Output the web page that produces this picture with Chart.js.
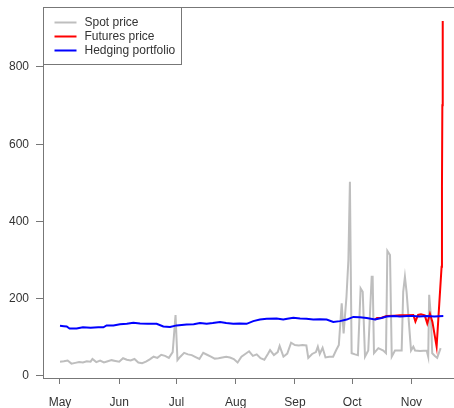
<!DOCTYPE html>
<html>
<head>
<meta charset="utf-8">
<script src="https://cdn.jsdelivr.net/npm/chart.js@4.4.1/dist/chart.umd.min.js"></script>
<style>
  body { margin: 0; background: #fff; }
  canvas { display: block; }
</style>
</head>
<body>
<canvas id="myChart" width="454" height="408"></canvas>
<script>
// days counted from May 1
const monthTicks = [0, 31, 61, 92, 123, 153, 184]
const monthLabels = ['May', 'Jun', 'Jul', 'Aug', 'Sep', 'Oct', 'Nov']
const yTicks = [0, 200, 400, 600, 800]

const spotDays = [
  0, 2, 4, 6, 8, 10, 12, 14, 16, 17, 19, 21, 23, 25, 27, 29, 31, 33, 35, 37,
  39, 41, 43, 45, 47, 49, 51, 53, 55, 57, 59, 60.5, 61.5, 63, 65, 67, 69, 71, 73, 75,
  77, 79, 81, 83, 85, 87, 89, 91, 93, 95, 97, 99, 101, 103, 105, 107, 109, 110, 112, 114,
  115, 117, 119, 121, 123, 125, 127, 129, 130, 132, 134, 135, 136, 137.5, 139, 141, 143, 144.5, 146, 147.5,
  148.5, 150, 151, 151.8, 152.2, 152.7, 154.5, 156, 157.4, 158.5, 159.7, 161.4, 163.2, 163.7, 164.4, 166.7, 169.3, 170.7, 171.4, 172.8,
  173.7, 175.4, 178.9, 179.7, 180.6, 181.5, 183.8, 185, 185.9, 188.5, 192, 192.8, 193.3, 194.2, 194.9, 196.3, 197.5, 199.3
]
const spotPrice = [
  37, 38, 40, 32, 34, 36, 35, 38, 37, 44, 36, 40, 35, 38, 41, 39, 37, 46, 42, 40,
  44, 35, 33, 37, 43, 50, 47, 55, 52, 47, 62, 158, 41, 50, 60, 56, 54, 49, 44, 60,
  55, 50, 45, 46, 48, 50, 48, 44, 35, 50, 57, 64, 52, 56, 46, 42, 58, 67, 54, 62,
  78, 50, 58, 86, 80, 79, 80, 79, 47, 57, 62, 76, 57, 73, 48, 50, 50, 66, 80, 188,
  110, 205, 300, 503, 300, 59, 56, 54, 227, 218, 50, 66, 257, 257, 59, 72, 66, 59, 324, 313,
  50, 66, 66, 218, 257, 216, 66, 76, 66, 65, 66, 50, 210, 154, 59, 52, 47, 72
]

const futuresDays = [
  164.9, 166, 168.4, 171, 175, 178, 182, 185, 186.1, 187.5, 189, 191, 192.3, 193.7, 195,
  197.2, 198.6, 199.8, 200, 200.2, 200.4
]
const futuresPrice = [
  146, 150, 151, 155, 156, 157, 157, 158, 141, 158, 160, 157, 136, 161, 140,
  76, 188, 283, 490, 701, 919
]

const hedgeDays = [
  0, 2, 3.5, 5, 8.7, 12, 16, 20, 22.7, 24.4, 28, 31.4, 35, 38.4, 41.9, 46, 50.6, 54.1, 57.6, 61.1,
  66.3, 70, 73.3, 76.8, 80, 83.8, 87, 90.7, 94, 97.7, 101.2, 104.7, 108.2, 113.4, 116.9, 119, 122.2, 125.7, 129, 132.6,
  136, 139.6, 143.1, 146.6, 150.1, 153.6, 157, 160.6, 164.9, 168.4, 171, 175, 178, 182, 185, 188, 192, 196, 200.7
]
const hedgePortfolio = [
  130, 129, 128, 123, 123, 126, 125, 126, 126, 131, 131, 134, 135, 138, 136, 135, 135, 128, 127, 131,
  133, 134, 137, 135, 137, 140, 137, 135, 136, 135, 142, 146, 148, 149, 146, 148, 151, 149, 148, 146,
  147, 146, 140, 142, 146, 153, 152, 150, 146, 150, 154, 155, 154, 155, 155, 154, 155, 154, 155
]

function pairs(xs, ys) {
  return xs.map((x, i) => ({ x: x, y: ys[i] }))
}

const axisColor = '#777'
const textColor = '#333'
const font = { family: 'Liberation Sans, Arial, sans-serif', size: 12 }

// box legend in the top left corner, like R's legend()
const boxLegend = {
  id: 'boxLegend',
  afterDraw(chart) {
    const ctx = chart.ctx
    const area = chart.chartArea
    const x0 = Math.round(area.left) + 0.5
    const y0 = Math.round(area.top) + 0.5
    ctx.save()
    ctx.fillStyle = '#fff'
    ctx.fillRect(x0, y0, 138, 57)
    ctx.strokeStyle = axisColor
    ctx.lineWidth = 1
    ctx.strokeRect(x0, y0, 138, 57)
    ctx.font = font.size + 'px ' + font.family
    ctx.textBaseline = 'middle'
    chart.data.datasets.forEach((ds, i) => {
      let y = y0 + 15 + i * 14
      ctx.strokeStyle = ds.borderColor
      ctx.lineWidth = 2
      ctx.beginPath()
      ctx.moveTo(x0 + 11, y)
      ctx.lineTo(x0 + 33, y)
      ctx.stroke()
      ctx.fillStyle = textColor
      ctx.fillText(ds.label, x0 + 41, y)
    })
    ctx.restore()
  }
}

// top edge of the plot box
const topLine = {
  id: 'topLine',
  afterDraw(chart) {
    const ctx = chart.ctx
    const area = chart.chartArea
    ctx.save()
    ctx.strokeStyle = axisColor
    ctx.lineWidth = 1
    ctx.beginPath()
    ctx.moveTo(area.left, Math.round(area.top) + 0.5)
    ctx.lineTo(area.right, Math.round(area.top) + 0.5)
    ctx.stroke()
    ctx.restore()
  }
}

let data = {
  datasets: [{
    label: 'Spot price',
    borderColor: '#bebebe',
    data: pairs(spotDays, spotPrice),
    order: 3
  }, {
    label: 'Futures price',
    borderColor: '#ff0000',
    data: pairs(futuresDays, futuresPrice),
    order: 2
  }, {
    label: 'Hedging portfolio',
    borderColor: '#0000ff',
    data: pairs(hedgeDays, hedgePortfolio),
    order: 1
  }]
}

let config = {
  type: 'line',
  data: data,
  plugins: [topLine, boxLegend],
  options: {
    responsive: false,
    animation: false,
    devicePixelRatio: 1,
    layout: { padding: { top: 7, left: 0, right: 0, bottom: 0 } },
    elements: {
      line: { borderWidth: 2, tension: 0 },
      point: { radius: 0 }
    },
    plugins: {
      legend: { display: false },
      tooltip: { enabled: false }
    },
    scales: {
      x: {
        type: 'linear',
        min: -8.9,
        max: 206.3,
        afterFit: (scale) => {
          scale.height = 30
          scale.paddingLeft = 0
          scale.paddingRight = 0
        },
        afterBuildTicks: (scale) => { scale.ticks = monthTicks.map(v => ({ value: v })) },
        grid: { display: true, drawOnChartArea: false, drawTicks: true, tickLength: 6, color: axisColor },
        border: { display: true, color: axisColor, width: 1 },
        ticks: {
          autoSkip: false,
          maxRotation: 0,
          padding: 11,
          color: textColor,
          font: font,
          callback: (value) => monthLabels[monthTicks.indexOf(value)]
        }
      },
      y: {
        min: -5.2,
        max: 955.2,
        afterFit: (scale) => {
          scale.width = 43
          scale.paddingTop = 0
          scale.paddingBottom = 0
        },
        afterBuildTicks: (scale) => { scale.ticks = yTicks.map(v => ({ value: v })) },
        grid: { display: true, drawOnChartArea: false, drawTicks: true, tickLength: 7, color: axisColor },
        border: { display: true, color: axisColor, width: 1 },
        ticks: {
          padding: 7,
          color: textColor,
          font: font
        }
      }
    }
  }
}

myChart = new Chart(
  document.getElementById('myChart'),
  config
)
</script>
</body>
</html>
